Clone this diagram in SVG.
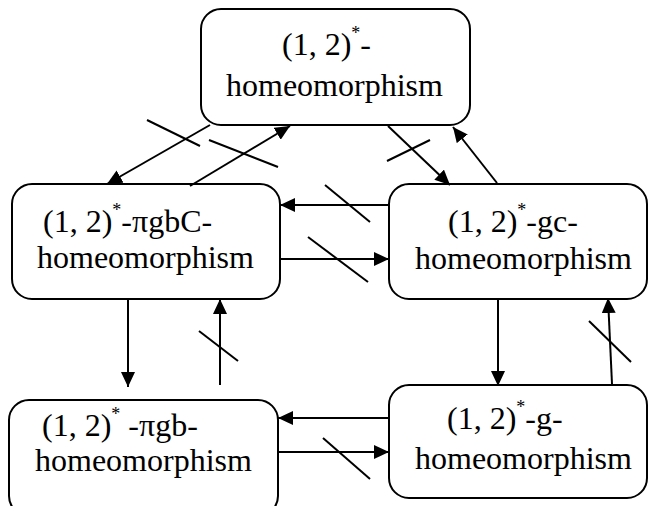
<svg xmlns="http://www.w3.org/2000/svg" width="649" height="506" viewBox="0 0 649 506">
<defs>
<marker id="ah" markerUnits="userSpaceOnUse" markerWidth="15" markerHeight="14" refX="15" refY="7" orient="auto">
<path d="M0,0 L15,7 L0,14 z" fill="#000"/>
</marker>
<style>
.box{fill:#fff;stroke:#000;stroke-width:2}
.t{font-family:"Liberation Serif","Times New Roman",serif;font-size:32px;fill:#000}
.sup{font-size:18px}
.c{stroke:#000;stroke-width:2;fill:none}
.a{marker-end:url(#ah)}
</style>
</defs>
<rect width="649" height="506" fill="#fff"/>
<g id="n-top">
<rect class="box" x="201" y="9" width="269" height="116" rx="20"/>
<text class="t" x="282" y="55">(1, 2)<tspan class="sup" dy="-16">*</tspan><tspan dy="16">-</tspan></text>
<text class="t" x="226" y="96">homeomorphism</text>
</g>
<g id="n-pigbc">
<rect class="box" x="12" y="184" width="268" height="115" rx="20"/>
<text class="t" x="43" y="232">(1, 2)<tspan class="sup" dy="-16">*</tspan><tspan dy="16">-πgbC-</tspan></text>
<text class="t" x="37" y="268">homeomorphism</text>
</g>
<g id="n-gc">
<rect class="box" x="389" y="184" width="258" height="115" rx="20"/>
<text class="t" x="448" y="232">(1, 2)<tspan class="sup" dy="-16">*</tspan><tspan dy="16">-gc-</tspan></text>
<text class="t" x="415" y="269">homeomorphism</text>
</g>
<g id="n-pigb">
<rect class="box" x="9" y="400" width="269" height="116" rx="20"/>
<text class="t" x="42" y="436">(1, 2)<tspan class="sup" dy="-16">*</tspan><tspan dy="16"> -πgb-</tspan></text>
<text class="t" x="35" y="471">homeomorphism</text>
</g>
<g id="n-g">
<rect class="box" x="389" y="385" width="258" height="113" rx="20"/>
<text class="t" x="447" y="429">(1, 2)<tspan class="sup" dy="-16">*</tspan><tspan dy="16">-g-</tspan></text>
<text class="t" x="415" y="469">homeomorphism</text>
</g>
<g id="connectors">
<line class="c a" x1="210" y1="125" x2="107" y2="184"/>
<line class="c a" x1="190" y1="186" x2="290" y2="126"/>
<line class="c a" x1="388" y1="126" x2="450" y2="185"/>
<line class="c a" x1="497" y1="183" x2="453" y2="127"/>
<line class="c a" x1="389" y1="205" x2="280" y2="205"/>
<line class="c a" x1="280" y1="259" x2="389" y2="259"/>
<line class="c a" x1="128" y1="299" x2="128" y2="387"/>
<line class="c a" x1="220" y1="385" x2="220" y2="299"/>
<line class="c a" x1="498" y1="299" x2="498" y2="386"/>
<line class="c a" x1="612" y1="384" x2="608" y2="298"/>
<line class="c a" x1="389" y1="418" x2="278" y2="418"/>
<line class="c a" x1="278" y1="452" x2="389" y2="452"/>
<line class="c" x1="147" y1="120" x2="200" y2="146"/>
<line class="c" x1="209" y1="140" x2="278" y2="167"/>
<line class="c" x1="387" y1="161" x2="430" y2="140"/>
<line class="c" x1="325" y1="185" x2="370" y2="222"/>
<line class="c" x1="308" y1="237" x2="368" y2="282"/>
<line class="c" x1="199" y1="331" x2="238" y2="361"/>
<line class="c" x1="589" y1="321" x2="631" y2="362"/>
<line class="c" x1="323" y1="438" x2="370" y2="479"/>
</g>
</svg>
